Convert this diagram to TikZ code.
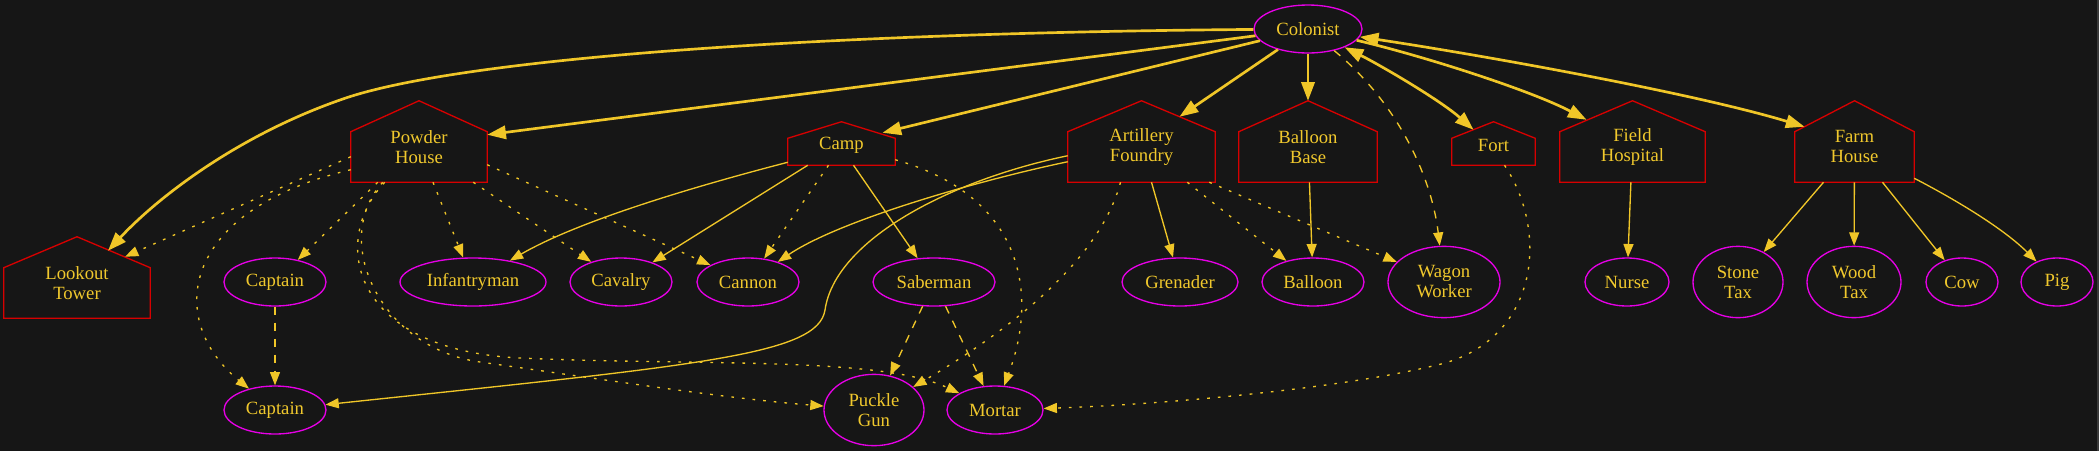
\documentclass[tikz,border=0pt]{standalone}
\usepackage{fontspec}
\setmainfont{Liberation Serif}
\usetikzlibrary{calc,shapes.geometric,arrows.meta}
\definecolor{bgdark}{RGB}{22,22,22}
\definecolor{rimgray}{RGB}{58,58,58}
\definecolor{wire}{RGB}{240,198,40}
\definecolor{inkyellow}{RGB}{240,200,45}
\definecolor{unitpink}{RGB}{230,0,230}
\definecolor{housered}{RGB}{215,0,0}
\tikzset{
  every node/.style={font=\fontsize{14}{15}\selectfont, text=inkyellow},
  unit/.style={ellipse, draw=unitpink, line width=1pt, inner sep=0pt,
    minimum width=#1*.75pt, minimum height=36pt},
  tall/.style={minimum height=53.5pt, align=center},
  roomtext/.style={align=center, yshift=-#1},
  house/.style n args={4}{rectangle, inner sep=0pt,
    minimum width=#1*.75pt, minimum height=#2*.75pt,
    label={[roomtext=#4]center:#3}},
  hull/.style={draw=housered, line width=1pt},
  rel/.style={draw=wire, line width=1pt, -{Triangle[length=10pt,width=7.5pt]}},
  dotty/.style={rel, dash pattern=on 2pt off 6pt},
  dashy/.style={rel, dash pattern=on 6pt off 6pt},
  main/.style={draw=wire, line width=2pt, -{Triangle[length=14pt,width=10pt]}},
  mainboth/.style={main, {Triangle[length=14pt,width=10pt]}-{Triangle[length=14pt,width=10pt]}},
}
% house outline round a house node
\newcommand\househull[1]{%
  \draw[hull] (#1.south west) -- (#1.south east)
    -- ($(#1.north east)!.38!(#1.south east)$) -- (#1.north)
    -- ($(#1.north west)!.38!(#1.south west)$) -- cycle;}

\begin{document}
\begin{tikzpicture}[x=.75pt,y=-.75pt]
  \useasboundingbox (0,0) rectangle (2099,451);
  \fill[bgdark] (0,0) rectangle (2099,451);
  \fill[rimgray] (2097,0) rectangle (2099,451);

  % buildings
  \node[house={146}{81}{Lookout\\Tower}{4pt}] (lookout) at (77,277.5) {};
  \node[house={136}{81}{Powder\\House}{4pt}] (powder) at (419,141.5) {};
  \node[house={107}{43}{Camp}{1.6pt}] (camp) at (841.5,143.5) {};
  \node[house={147}{81}{Artillery\\Foundry}{4pt}] (artillery) at (1141.5,141.5) {};
  \node[house={138}{81}{Balloon\\Base}{4pt}] (balloonbase) at (1308,141.5) {};
  \node[house={83}{43}{Fort}{1.6pt}] (fort) at (1493.5,143.5) {};
  \node[house={145}{81}{Field\\Hospital}{4pt}] (hospital) at (1632.5,141.5) {};
  \node[house={119}{81}{Farm\\House}{4pt}] (farm) at (1854.5,141.5) {};
  \foreach \h in {lookout,powder,camp,artillery,balloonbase,fort,hospital,farm}
    \househull{\h};

  % units
  \node[unit=108] (colonist) at (1308,29) {Colonist};
  \node[unit=102] (captainA) at (275,282) {Captain};
  \node[unit=146] (infantry) at (473,282) {Infantryman};
  \node[unit=102] (cavalry) at (621,282) {Cavalry};
  \node[unit=102] (cannon) at (748,282) {Cannon};
  \node[unit=122] (saberman) at (934,282) {Saberman};
  \node[unit=116] (grenader) at (1180,282) {Grenader};
  \node[unit=102] (balloon) at (1313,282) {Balloon};
  \node[unit=112,tall] (wagon) at (1444,282) {Wagon\\Worker};
  \node[unit=84] (nurse) at (1627,282) {Nurse};
  \node[unit=90,tall] (stonetax) at (1738,282) {Stone\\Tax};
  \node[unit=94,tall] (woodtax) at (1854,282) {Wood\\Tax};
  \node[unit=72] (cow) at (1962,282) {Cow};
  \node[unit=72] (pig) at (2057,282) {Pig};
  \node[unit=102] (captainB) at (275,410) {Captain};
  \node[unit=100,tall] (puckle) at (874,410) {Puckle\\Gun};
  \node[unit=96] (mortar) at (995,410) {Mortar};

  % colonist
  \draw[main] (colonist) .. controls (800,33) and (450,60) .. (340,100)
    .. controls (240,135) and (160,195) .. ($(lookout.north)+(31,14)$);
  \draw[main] (colonist) -- ($(powder.north east)+(0,34)$);
  \draw[main] (colonist) -- ($(camp.north)+(41,11)$);
  \draw[main] (colonist) -- ($(artillery.north)+(38,16)$);
  \draw[main] (colonist) -- (balloonbase.north);
  \draw[mainboth] (colonist) .. controls (1380,65) and (1440,100) .. ($(fort.north)+(-20,8)$);
  \draw[main] (colonist) .. controls (1420,55) and (1530,90) .. ($(hospital.north)+(-46,19)$);
  \draw[mainboth] (colonist) .. controls (1500,58) and (1700,95) .. ($(farm.north)+(-50,26)$);
  \draw[dashy] (colonist) .. controls (1400,105) and (1432,180) .. (wagon);

  % powder house
  \draw[dotty] ($(powder.north west)+(0,56)$) -- ($(lookout.north)+(48,20)$);
  \draw[dotty] ($(powder.north west)+(0,69)$) .. controls (180,210) and (165,320) .. (captainB);
  \draw[dotty] ($(powder.south west)+(27,0)$) -- (captainA);
  \draw[dotty] ($(powder.south)+(14,0)$) -- (infantry);
  \draw[dotty] ($(powder.south east)+(-14,0)$) -- (cavalry);
  \draw[dotty] ($(powder.north east)+(0,64)$) -- (cannon);
  \draw[dotty] ($(powder.south west)+(34,0)$) .. controls (330,240) and (350,350) .. (520,358)
    .. controls (700,366) and (880,356) .. (mortar);
  \draw[dotty] ($(powder.south west)+(32,0)$) .. controls (330,240) and (380,348) .. (480,362)
    .. controls (580,376) and (720,398) .. (puckle);

  % camp
  \draw[rel] ($(camp.south west)+(0,-3)$) .. controls (700,185) and (580,220) .. (infantry);
  \draw[rel] ($(camp.south west)+(20,0)$) -- (cavalry);
  \draw[dotty] ($(camp.south)+(-13,0)$) -- (cannon);
  \draw[rel] ($(camp.south)+(12,0)$) -- (saberman);
  \draw[dotty] ($(camp.north east)+(0,38)$) .. controls (1020,195) and (1040,290) .. (mortar);

  % artillery foundry
  \draw[rel] ($(artillery.north west)+(0,61)$) .. controls (980,180) and (840,220) .. (cannon);
  \draw[rel] ($(artillery.north west)+(0,55)$) .. controls (950,180) and (835,240) .. (825,310)
    .. controls (818,355) and (700,365) .. (captainB);
  \draw[dotty] ($(artillery.south)+(-21,0)$) .. controls (1100,260) and (1010,330) .. (puckle);
  \draw[rel] ($(artillery.south)+(10,0)$) -- (grenader);
  \draw[dotty] ($(artillery.south east)+(-28,0)$) -- (balloon);
  \draw[dotty] ($(artillery.south east)+(-6,0)$) -- (wagon);

  % the rest
  \draw[rel] (balloonbase) -- (balloon);
  \draw[dotty] ($(fort.south)+(11,0)$) .. controls (1548,230) and (1540,335) .. (1445,363)
    .. controls (1340,390) and (1150,405) .. (mortar);
  \draw[rel] (hospital) -- (nurse);
  \draw[rel] ($(farm.south)+(-31,0)$) -- (stonetax);
  \draw[rel] (farm) -- (woodtax);
  \draw[rel] ($(farm.south)+(28,0)$) -- (cow);
  \draw[rel] ($(farm.south east)+(0,-4)$) .. controls (1960,202) and (2005,230) .. (pig);
  \draw[dashy] (saberman) -- (puckle);
  \draw[dashy] (saberman) -- (mortar);
  \draw[dashy] (captainA) -- (captainB);
\end{tikzpicture}
\end{document}
